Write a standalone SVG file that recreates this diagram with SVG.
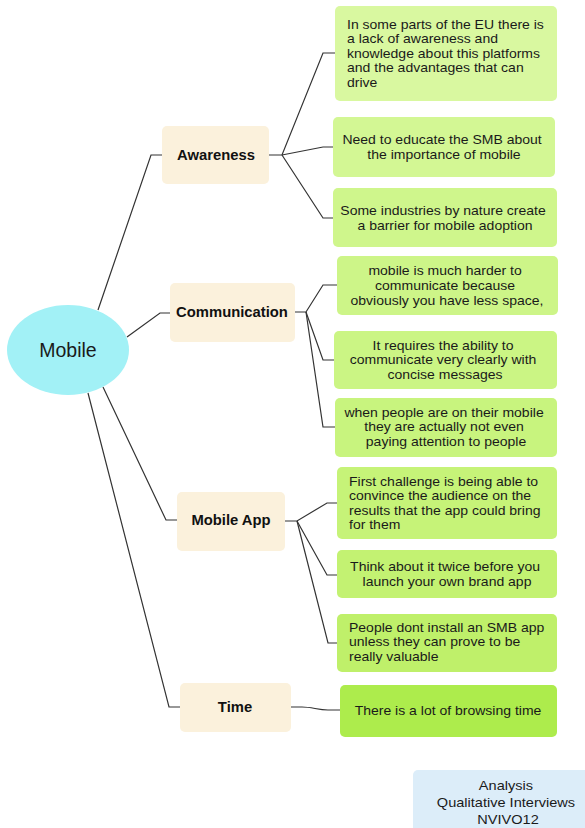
<svg xmlns="http://www.w3.org/2000/svg" width="585" height="828" viewBox="0 0 585 828">
  <style>
    .leaf text, .note text { font-family: "Liberation Sans", Arial, sans-serif; font-size: 12.4px; fill: #1a1a1a; }
    .note text { font-size: 13px; }
    .cat rect { fill: #fbf1dc; }
    .cat text { font-family: "Liberation Sans", Arial, sans-serif; font-size: 14.8px; font-weight: bold; fill: #111; text-anchor: middle; }
    .c { text-anchor: middle; }
    #connectors path { fill: none; stroke: #333; stroke-width: 1.2; }
  </style>
  <rect width="585" height="828" fill="#ffffff"/>

  <g id="connectors">
    <!-- root to categories -->
    <path d="M98,310 L151,155 L162,155"/>
    <path d="M127,337 L160,313 L170,313"/>
    <path d="M103,387 L166,520 L177,520"/>
    <path d="M88,393 L169,707 L180,707"/>
    <!-- Awareness branches -->
    <path d="M269,155 L282,155 L323,53 L335,53"/>
    <path d="M282,155 L323,147 L333,147"/>
    <path d="M282,155 L323,218 L333,218"/>
    <!-- Communication branches -->
    <path d="M295,312 L306,312 L323,285 L337,285"/>
    <path d="M306,312 L323,360 L334,360"/>
    <path d="M306,312 L323,427 L335,427"/>
    <!-- Mobile App branches -->
    <path d="M285,521 L297,521 L327,503 L337,503"/>
    <path d="M297,521 L327,575 L337,575"/>
    <path d="M297,521 L328,643 L337,643"/>
    <!-- Time branch -->
    <path d="M291,707 L302,707 C312,707 318,710 328,710 L340,710"/>
  </g>

  <g id="root">
    <ellipse cx="68" cy="350" rx="61" ry="45" fill="#a2f1f6"/>
    <text x="68" y="357" font-family="'Liberation Sans', Arial, sans-serif" font-size="19.5" fill="#1a1a1a" text-anchor="middle">Mobile</text>
  </g>

  <g id="awareness" class="cat">
    <rect x="162" y="126" width="107" height="58" rx="5"/>
    <text x="216" y="160">Awareness</text>
  </g>
  <g id="communication" class="cat">
    <rect x="170" y="283" width="125" height="59" rx="5"/>
    <text x="232" y="317">Communication</text>
  </g>
  <g id="mobile-app" class="cat">
    <rect x="177" y="492" width="108" height="59" rx="5"/>
    <text x="231" y="525">Mobile App</text>
  </g>
  <g id="time" class="cat">
    <rect x="180" y="683" width="111" height="49" rx="5"/>
    <text x="235" y="712">Time</text>
  </g>

  <!-- leaf texts are set in a slightly widened face -->
  <g id="awareness-1" class="leaf">
    <rect x="335" y="6" width="222" height="95" rx="5" fill="#d9f8a0"/>
    <text transform="translate(347,0) scale(1.13,1)">
      <tspan x="0" y="29">In some parts of the EU there is</tspan>
      <tspan x="0" y="43.5">a lack of awareness and</tspan>
      <tspan x="0" y="58">knowledge about this platforms</tspan>
      <tspan x="0" y="72.5">and the advantages that can</tspan>
      <tspan x="0" y="87">drive</tspan>
    </text>
  </g>
  <g id="awareness-2" class="leaf">
    <rect x="333" y="117" width="222" height="60" rx="5" fill="#d3f794"/>
    <text class="c" transform="translate(444,0) scale(1.13,1)">
      <tspan x="0" y="144">Need to educate the SMB about</tspan>
      <tspan x="0" y="159">the importance of mobile</tspan>
    </text>
  </g>
  <g id="awareness-3" class="leaf">
    <rect x="333" y="188" width="224" height="59" rx="5" fill="#cff68c"/>
    <text class="c" transform="translate(445,0) scale(1.13,1)">
      <tspan x="0" y="215">Some industries by nature create</tspan>
      <tspan x="0" y="230">a barrier for mobile adoption</tspan>
    </text>
  </g>

  <g id="communication-1" class="leaf">
    <rect x="337" y="256" width="221" height="59" rx="5" fill="#cdf588"/>
    <text class="c" transform="translate(447,0) scale(1.13,1)">
      <tspan x="0" y="275">mobile is much harder to</tspan>
      <tspan x="0" y="290">communicate because</tspan>
      <tspan x="0" y="305">obviously you have less space,</tspan>
    </text>
  </g>
  <g id="communication-2" class="leaf">
    <rect x="334" y="331" width="223" height="58" rx="5" fill="#cbf584"/>
    <text class="c" transform="translate(445,0) scale(1.13,1)">
      <tspan x="0" y="350">It requires the ability to</tspan>
      <tspan x="0" y="364.5">communicate very clearly with</tspan>
      <tspan x="0" y="379">concise messages</tspan>
    </text>
  </g>
  <g id="communication-3" class="leaf">
    <rect x="335" y="398" width="222" height="59" rx="5" fill="#c8f47e"/>
    <text class="c" transform="translate(446,0) scale(1.13,1)">
      <tspan x="0" y="417">when people are on their mobile</tspan>
      <tspan x="0" y="431.5">they are actually not even</tspan>
      <tspan x="0" y="446">paying attention to people</tspan>
    </text>
  </g>

  <g id="mobile-app-1" class="leaf">
    <rect x="337" y="467" width="220" height="72" rx="5" fill="#c6f378"/>
    <text transform="translate(349,0) scale(1.13,1)">
      <tspan x="0" y="486">First challenge is being able to</tspan>
      <tspan x="0" y="500.5">convince the audience on the</tspan>
      <tspan x="0" y="515">results that the app could bring</tspan>
      <tspan x="0" y="529.5">for them</tspan>
    </text>
  </g>
  <g id="mobile-app-2" class="leaf">
    <rect x="337" y="550" width="220" height="48" rx="5" fill="#c3f272"/>
    <text class="c" transform="translate(447,0) scale(1.13,1)">
      <tspan x="0" y="571">Think about it twice before you</tspan>
      <tspan x="0" y="586">launch your own brand app</tspan>
    </text>
  </g>
  <g id="mobile-app-3" class="leaf">
    <rect x="337" y="614" width="220" height="58" rx="5" fill="#bff06a"/>
    <text transform="translate(349,0) scale(1.13,1)">
      <tspan x="0" y="632">People dont install an SMB app</tspan>
      <tspan x="0" y="646.5">unless they can prove to be</tspan>
      <tspan x="0" y="661">really valuable</tspan>
    </text>
  </g>

  <g id="time-1" class="leaf">
    <rect x="340" y="685" width="217" height="52" rx="5" fill="#adec4c"/>
    <text class="c" transform="translate(448,0) scale(1.13,1)">
      <tspan x="0" y="715">There is a lot of browsing time</tspan>
    </text>
  </g>

  <g id="note" class="note">
    <rect x="413" y="770" width="176" height="62" rx="5" fill="#dcedf9"/>
    <text class="c" transform="translate(508,0) scale(1.12,1)">
      <tspan x="0" y="790">Analysis</tspan>
      <tspan x="0" y="807">Qualitative Interviews</tspan>
      <tspan x="0" y="824">NVIVO12</tspan>
    </text>
  </g>
</svg>
